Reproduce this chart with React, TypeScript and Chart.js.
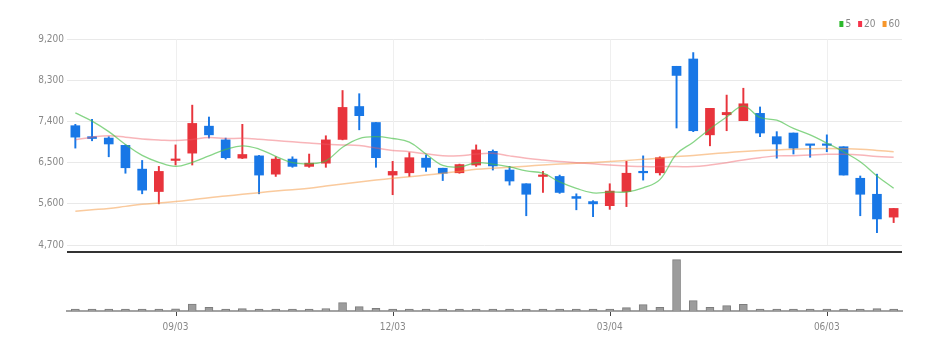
import React, { useEffect, useRef } from 'react';
import { Chart, registerables } from 'chart.js';

Chart.register(...registerables);

const DATES = [
  '07/23', '07/30', '08/06', '08/13', '08/20', '08/27', '09/03', '09/10', '09/17', '09/24',
  '10/01', '10/08', '10/15', '10/22', '10/29', '11/05', '11/12', '11/19', '11/26', '12/03',
  '12/10', '12/17', '12/24', '12/31', '01/07', '01/14', '01/21', '01/28', '02/04', '02/11',
  '02/18', '02/25', '03/04', '03/11', '03/18', '03/25', '04/01', '04/08', '04/15', '04/22',
  '04/29', '05/06', '05/13', '05/20', '05/27', '06/03', '06/10', '06/17', '06/24', '07/01',
];
const SHOWN_DATES = ['09/03', '12/03', '03/04', '06/03'];

const OPEN = [
  7310, 7070, 7040, 6880, 6360, 5870, 6550, 6710, 7300, 7000,
  6600, 6650, 6250, 6580, 6420, 6490, 7010, 7730, 7380, 6230,
  6280, 6600, 6380, 6280, 6450, 6750, 6340, 6040, 6200, 6200,
  5760, 5650, 5560, 5870, 6310, 6280, 8610, 8770, 7110, 7550,
  7420, 7580, 7070, 7150, 6900, 6900, 6850, 6160, 5810, 5310,
];
const HIGH = [
  7340, 7450, 7070, 6890, 6550, 6420, 6890, 7760, 7500, 7040,
  7340, 6660, 6630, 6630, 6690, 7090, 8080, 8010, 7380, 6530,
  6720, 6670, 6380, 6470, 6890, 6780, 6420, 6040, 6310, 6230,
  5820, 5670, 6040, 6530, 6650, 6630, 8610, 8910, 7690, 7980,
  8130, 7720, 7180, 7150, 6900, 7110, 6850, 6210, 6250, 5500,
];
const LOW = [
  6820, 6980, 6630, 6270, 5820, 5600, 6450, 6450, 7040, 6580,
  6590, 5820, 6200, 6400, 6400, 6400, 7000, 7220, 6400, 5800,
  6200, 6310, 6110, 6270, 6420, 6340, 6010, 5340, 5850, 5830,
  5470, 5320, 5480, 5540, 6120, 6230, 7260, 7180, 6870, 7200,
  7420, 7070, 6600, 6690, 6620, 6740, 6230, 5340, 4970, 5190,
];
const CLOSE = [
  7060, 7030, 6910, 6390, 5900, 6310, 6580, 7360, 7110, 6610,
  6680, 6230, 6580, 6420, 6490, 7000, 7710, 7530, 6610, 6310,
  6610, 6400, 6270, 6460, 6780, 6430, 6100, 5810, 6230, 5850,
  5720, 5600, 5880, 6270, 6280, 6610, 8410, 7200, 7690, 7600,
  7790, 7150, 6910, 6820, 6880, 6880, 6230, 5810, 5270, 5500,
];
const VOLUME = [
  34000, 15000, 15000, 12000, 14000, 13000, 45000, 140000, 74000, 12000,
  46000, 14000, 12000, 5000, 15000, 50000, 166000, 86000, 54000, 38000,
  16000, 14000, 15000, 5000, 40000, 14000, 5000, 14000, 5000, 5000,
  13000, 15000, 16000, 66000, 126000, 74000, 1028000, 206000, 74000, 106000,
  134000, 40000, 34000, 16000, 15000, 16000, 17000, 18000, 46000, 16000,
];
const MA5 = [
  7590, 7410, 7180, 6900, 6660, 6510, 6420, 6510, 6650, 6790,
  6870, 6800, 6640, 6500, 6480, 6540, 6840, 7030, 7070, 7030,
  6950, 6690, 6440, 6410, 6500, 6470, 6410, 6320, 6270, 6080,
  5940, 5840, 5860, 5860, 5950, 6130, 6690, 6950, 7240, 7500,
  7740, 7490, 7430, 7250, 7110, 6930, 6740, 6520, 6210, 5940,
];
const MA20 = [
  7000, 7060, 7090, 7060, 7020, 7000, 6985, 7010, 7050, 7030,
  7035, 7015, 6985, 6960, 6930, 6905, 6890, 6875, 6820, 6770,
  6740, 6695, 6655, 6650, 6690, 6705, 6650, 6600, 6560, 6525,
  6500, 6475, 6450, 6430, 6415, 6415, 6415, 6415, 6450, 6500,
  6560, 6610, 6650, 6655, 6670, 6685, 6685, 6670, 6635, 6620,
];
const MA60 = [
  5440, 5470, 5500, 5545, 5590, 5620, 5650, 5690, 5735, 5770,
  5810, 5845, 5880, 5910, 5940, 5990, 6035, 6080, 6120, 6160,
  6195, 6230, 6270, 6310, 6355, 6380, 6400, 6425, 6450, 6470,
  6490, 6505, 6525, 6550, 6575, 6600, 6635, 6660, 6690, 6720,
  6745, 6765, 6780, 6795, 6805, 6810, 6805, 6795, 6770, 6740,
];
const PRICE_TICKS = [4700, 5600, 6500, 7400, 8300, 9200];
const PRICE_AXIS_MIN = 3256;
const PRICE_AXIS_MAX = 9404;
const PANEL_SPLIT = 4547;
const VOLUME_AXIS_MAX = 5620000;

const LEGEND_ITEMS = [
  { label: '5', color: '#2cb92c' },
  { label: '20', color: '#f5344a' },
  { label: '60', color: '#f7962a' },
];

const UP = '#e8343c';
const DOWN = '#1877e6';
const FONT = "'Liberation Sans Narrow', 'DejaVu Sans Condensed', sans-serif";

const overlayPlugin = {
  id: 'overlay',
  beforeDatasetsDraw(chart: any) {
    const { ctx, scales } = chart;
    const x = scales.x;
    const y = scales.y;
    const top = y.getPixelForValue(PRICE_TICKS[PRICE_TICKS.length - 1]);
    const bottom = y.getPixelForValue(PRICE_TICKS[0]);
    ctx.save();
    ctx.strokeStyle = '#efefef';
    ctx.lineWidth = 1;
    DATES.forEach((d, i) => {
      if (!SHOWN_DATES.includes(d)) return;
      const px = Math.round(x.getPixelForValue(i)) + 0.5;
      ctx.beginPath();
      ctx.moveTo(px, top);
      ctx.lineTo(px, bottom);
      ctx.stroke();
    });
    ctx.restore();
  },
  afterDraw(chart: any) {
    const { ctx, scales, chartArea } = chart;
    const x = scales.x;
    const y = scales.y;
    ctx.save();
    // panel separator
    const sep = y.getPixelForValue(PANEL_SPLIT);
    ctx.strokeStyle = '#333333';
    ctx.lineWidth = 2;
    ctx.beginPath();
    ctx.moveTo(chartArea.left, sep);
    ctx.lineTo(chartArea.right, sep);
    ctx.stroke();
    // tick marks
    ctx.lineWidth = 1;
    ctx.strokeStyle = '#444444';
    DATES.forEach((d, i) => {
      if (!SHOWN_DATES.includes(d)) return;
      const px = Math.round(x.getPixelForValue(i)) + 0.5;
      ctx.beginPath();
      ctx.moveTo(px, chartArea.bottom + 1);
      ctx.lineTo(px, chartArea.bottom + 5);
      ctx.stroke();
    });
    // legend
    ctx.font = `10px ${FONT}`;
    ctx.textBaseline = 'middle';
    ctx.textAlign = 'left';
    const boxW = 4;
    const boxH = 6;
    const gapBox = 2;
    const gapItem = 7;
    const widths = LEGEND_ITEMS.map((it) => boxW + gapBox + ctx.measureText(it.label).width);
    const total = widths.reduce((a, b) => a + b, 0) + gapItem * (LEGEND_ITEMS.length - 1);
    let lx = chartArea.right - 2 - total;
    const ly = 24;
    LEGEND_ITEMS.forEach((it, k) => {
      ctx.fillStyle = it.color;
      ctx.fillRect(lx, ly - boxH / 2, boxW, boxH);
      ctx.fillStyle = '#888888';
      ctx.fillText(it.label, lx + boxW + gapBox, ly);
      lx += widths[k] + gapItem;
    });
    ctx.restore();
  },
};

export default function App() {
  const ref = useRef<HTMLCanvasElement | null>(null);

  useEffect(() => {
    if (!ref.current) return;
    const candleColors = DATES.map((_, i) => (CLOSE[i] >= OPEN[i] ? UP : DOWN));
    const chart = new Chart(ref.current, {
      type: 'bar',
      data: {
        labels: DATES,
        datasets: [
          {
            type: 'line',
            label: '5',
            data: MA5,
            borderColor: 'rgba(70,190,70,0.65)',
            borderWidth: 1.3,
            pointRadius: 0,
            tension: 0.4,
            yAxisID: 'y',
            order: 1,
          } as any,
          {
            type: 'line',
            label: '20',
            data: MA20,
            borderColor: 'rgba(240,90,100,0.45)',
            borderWidth: 1.5,
            pointRadius: 0,
            tension: 0.4,
            yAxisID: 'y',
            order: 1,
          } as any,
          {
            type: 'line',
            label: '60',
            data: MA60,
            borderColor: 'rgba(245,150,60,0.5)',
            borderWidth: 1.5,
            pointRadius: 0,
            tension: 0.4,
            yAxisID: 'y',
            order: 1,
          } as any,
          {
            type: 'bar',
            label: 'body',
            data: DATES.map((_, i) => [OPEN[i], CLOSE[i]]),
            backgroundColor: candleColors,
            borderWidth: 0,
            barThickness: 9,
            minBarLength: 1.5,
            grouped: false,
            yAxisID: 'y',
            order: 2,
          } as any,
          {
            type: 'bar',
            label: 'wick',
            data: DATES.map((_, i) => [LOW[i], HIGH[i]]),
            backgroundColor: candleColors,
            borderWidth: 0,
            barThickness: 1.3,
            grouped: false,
            yAxisID: 'y',
            order: 3,
          } as any,
          {
            type: 'bar',
            label: 'volume',
            data: VOLUME,
            backgroundColor: '#9c9c9c',
            borderColor: '#7d7d7d',
            borderWidth: 1,
            barThickness: 8,
            minBarLength: 2,
            grouped: false,
            yAxisID: 'yv',
            order: 4,
          } as any,
        ],
      },
      options: {
        responsive: false,
        animation: false,
        layout: { padding: { top: 30, right: 46, bottom: 0, left: 0 } },
        plugins: {
          legend: { display: false },
          tooltip: { enabled: false },
        },
        scales: {
          x: {
            offset: true,
            grid: {
              display: true,
              drawOnChartArea: false,
              color: 'rgba(0,0,0,0)',
              tickColor: 'rgba(0,0,0,0)',
              tickLength: 5,
            },
            border: { display: true, color: '#a3a3a3', width: 2 },
            ticks: {
              autoSkip: false,
              maxRotation: 0,
              padding: 5,
              color: '#888888',
              font: { family: FONT, size: 10 },
              callback: function (this: any, val: any) {
                const lbl = this.getLabelForValue(val);
                return SHOWN_DATES.includes(lbl) ? lbl : '';
              },
            },
            afterFit: (scale: any) => {
              scale.height = 39;
            },
          },
          y: {
            position: 'left',
            min: PRICE_AXIS_MIN,
            max: PRICE_AXIS_MAX,
            grid: { color: '#e9e9e9', drawTicks: false },
            border: { display: false },
            ticks: {
              padding: 3,
              color: '#888888',
              font: { family: FONT, size: 10 },
              callback: (v: any) => Number(v).toLocaleString('en-US'),
            },
            afterBuildTicks: (scale: any) => {
              scale.ticks = PRICE_TICKS.map((v) => ({ value: v }));
            },
            afterFit: (scale: any) => {
              scale.width = 67;
            },
          },
          yv: {
            display: false,
            position: 'right',
            min: 0,
            max: VOLUME_AXIS_MAX,
          },
        },
      } as any,
      plugins: [overlayPlugin],
    });
    return () => chart.destroy();
  }, []);

  return (
    <div style={{ position: 'fixed', left: 0, top: 0, width: 948, height: 350, background: '#fff' }}>
      <canvas ref={ref} width={948} height={350} style={{ display: 'block' }} />
    </div>
  );
}
